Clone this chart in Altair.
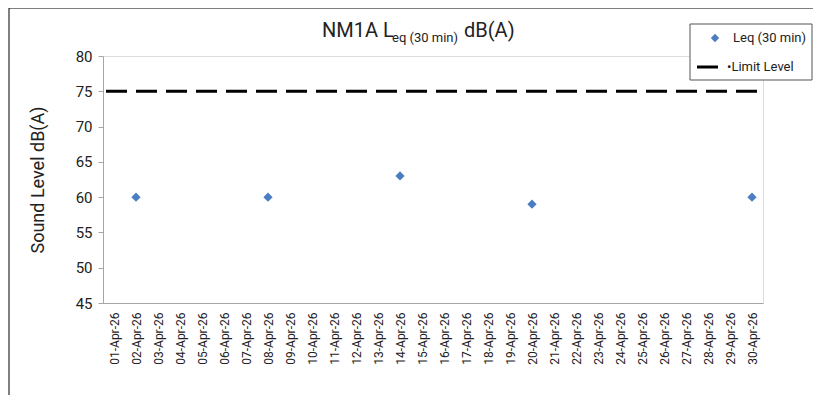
import altair as alt
import pandas as pd

# ---- data ----
dates = ["01-Apr-26", "02-Apr-26", "03-Apr-26", "04-Apr-26", "05-Apr-26", "06-Apr-26",
         "07-Apr-26", "08-Apr-26", "09-Apr-26", "10-Apr-26", "11-Apr-26", "12-Apr-26",
         "13-Apr-26", "14-Apr-26", "15-Apr-26", "16-Apr-26", "17-Apr-26", "18-Apr-26",
         "19-Apr-26", "20-Apr-26", "21-Apr-26", "22-Apr-26", "23-Apr-26", "24-Apr-26",
         "25-Apr-26", "26-Apr-26", "27-Apr-26", "28-Apr-26", "29-Apr-26", "30-Apr-26"]
leq_dates = ["02-Apr-26", "08-Apr-26", "14-Apr-26", "20-Apr-26", "30-Apr-26"]
leq_values = [60, 60, 63, 59, 60]
limit_level = [75]
y_ticks = [45, 50, 55, 60, 65, 70, 75, 80]
legend_labels = ["Leq (30 min)", "\u2022Limit Level"]

FONT = "Roboto"
BLUE = "#4A7EC0"
W, H = 660, 247

pts = pd.DataFrame({"date": leq_dates, "leq": leq_values})
lim = pd.DataFrame({"limit": limit_level})
one = pd.DataFrame({"k": [0]})

x_enc = alt.X("date:N", sort=dates,
              scale=alt.Scale(domain=dates),
              axis=alt.Axis(title=None, labelAngle=270, ticks=False, labelPadding=9,
                            labelFontSize=12, labelFont=FONT, labelColor="#222222",
                            domainColor="#A6A6A6", grid=False, labelAlign="right",
                            labelBaseline="middle", labelOverlap=False))
y_scale = alt.Scale(domain=[45, 80], nice=False, zero=False)
y_axis = alt.Axis(title="Sound Level dB(A)", values=y_ticks, grid=False,
                  labelFontSize=15, labelFont=FONT, labelColor="#222222",
                  tickColor="#A6A6A6", domainColor="#A6A6A6", tickSize=5,
                  labelPadding=6, titleFontSize=18, titleFont=FONT,
                  titleFontWeight="normal", titleColor="#222222", titlePadding=28,
                  labelOverlap=False, labelFlush=False)

points = alt.Chart(pts).mark_point(shape="diamond", filled=True, size=85,
                                   color=BLUE, opacity=1).encode(
    x=x_enc,
    y=alt.Y("leq:Q", scale=y_scale, axis=y_axis),
)

rule = alt.Chart(lim).mark_rule(color="black", strokeWidth=3,
                                strokeDash=[21, 9], strokeDashOffset=24).encode(
    y=alt.Y("limit:Q", scale=y_scale, axis=y_axis)
)

# outer frame
frame = alt.Chart(one).mark_rect(fill="transparent", stroke="black",
                                 strokeWidth=1).encode(
    x=alt.value(-94), x2=alt.value(1000), y=alt.value(-48), y2=alt.value(800)
)

# title (with subscript)
t1 = alt.Chart(one).mark_text(text="NM1A L", font=FONT, fontSize=20, align="left",
                              baseline="alphabetic", color="#222222").encode(
    x=alt.value(219), y=alt.value(-19))
t2 = alt.Chart(one).mark_text(text="eq (30 min)", font=FONT, fontSize=13, align="left",
                              baseline="alphabetic", color="#222222").encode(
    x=alt.value(289), y=alt.value(-14))
t3 = alt.Chart(one).mark_text(text="dB(A)", font=FONT, fontSize=20, align="left",
                              baseline="alphabetic", color="#222222").encode(
    x=alt.value(361), y=alt.value(-19))

# legend
leg_box = alt.Chart(one).mark_rect(fill="white", stroke="#555555",
                                   strokeWidth=1).encode(
    x=alt.value(587), x2=alt.value(709), y=alt.value(-32), y2=alt.value(24))
leg_pt = alt.Chart(one).mark_point(shape="diamond", filled=True, size=70,
                                   color=BLUE, opacity=1).encode(
    x=alt.value(612), y=alt.value(-18))
leg_ln = alt.Chart(one).mark_rule(color="black", strokeWidth=3).encode(
    x=alt.value(594), x2=alt.value(615), y=alt.value(11))
leg_t1 = alt.Chart(one).mark_text(text=legend_labels[0], font=FONT, fontSize=13,
                                  align="left", baseline="middle",
                                  color="#222222").encode(
    x=alt.value(630), y=alt.value(-18))
leg_t2 = alt.Chart(one).mark_text(text=legend_labels[1], font=FONT, fontSize=13,
                                  align="left", baseline="middle",
                                  color="#222222").encode(
    x=alt.value(624), y=alt.value(11))

chart = alt.layer(
    frame, rule, points, t1, t2, t3, leg_box, leg_pt, leg_ln, leg_t1, leg_t2
).properties(
    width=W, height=H,
    autosize=alt.AutoSizeParams(type="none"),
    padding={"left": 95, "top": 48, "right": 50, "bottom": 92},
).configure_view(stroke=None).configure(background="white")

chart.save("out.html", embed_options={"renderer": "svg", "actions": False})
